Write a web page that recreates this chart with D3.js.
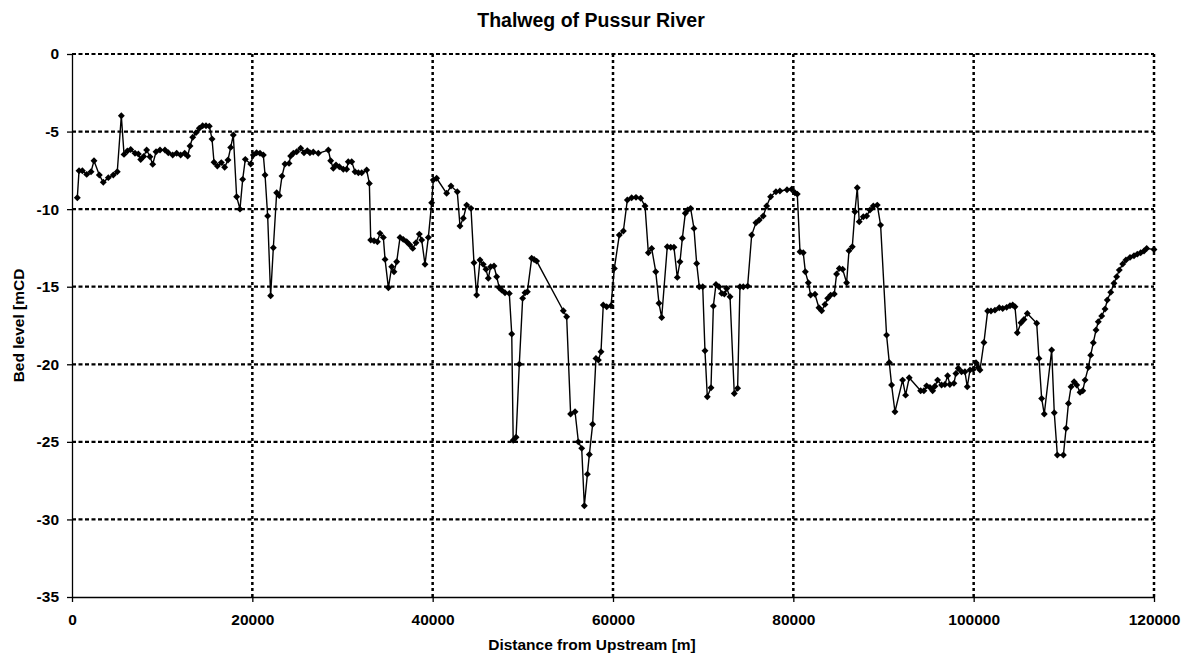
<!DOCTYPE html>
<html>
<head>
<meta charset="utf-8">
<script src="https://cdn.jsdelivr.net/npm/d3@7"></script>
<style>
  body { margin: 0; background: #fff; }
  svg { display: block; font-family: "Liberation Sans", Arial, sans-serif; }
</style>
</head>
<body>
<div id="chart"></div>
<script>
// distance from upstream [m]
const distance = [
  590, 780, 1150, 1630, 2110, 2440, 3030, 3470, 4030, 4580, 5020, 5470, 5770, 6140, 6510,
  6990, 7360, 7620, 7950, 8280, 8650, 8950, 9320, 9760, 10310, 10680, 11170, 11610, 12050,
  12500, 12830, 13090, 13390, 13750, 14120, 14490, 14860, 15230, 15530, 15750, 16120, 16560,
  16930, 17300, 17600, 17890, 18260, 18630, 18930, 19220, 19820, 20110, 20480, 20850, 21220,
  21410, 21700, 22030, 22330, 22700, 22990, 23290, 23620, 24070, 24250, 24550, 24920, 25360,
  25730, 26100, 26390, 26760, 27320, 28430, 28690, 28980, 29280, 29650, 30090, 30460, 30640,
  31020, 31390, 31760, 32130, 32680, 32980, 33130, 33500, 33870, 34160, 34530, 34720, 35090,
  35460, 35710, 36010, 36380, 36740, 37120, 37450, 37790, 38150, 38520, 38780, 39150, 39520,
  39890, 40070, 40440, 41550, 42030, 42730, 43030, 43400, 43770, 44250, 44580, 44880, 45250,
  45610, 45910, 46170, 46430, 46800, 47100, 47390, 47660, 48020, 48500, 48770, 48930, 49250,
  49610, 49980, 50240, 50500, 50980, 51250, 51530, 54490, 54860, 55300, 55790, 56160, 56530,
  56820, 57160, 57380, 57740, 58110, 58380, 58670, 58920, 59300, 59780, 60150, 60700, 61150,
  61590, 62070, 62550, 63070, 63550, 63920, 64290, 64740, 65100, 65400, 66020, 66400, 66760,
  67130, 67430, 67690, 68020, 68280, 68610, 68980, 69280, 69570, 69950, 70200, 70460, 70870,
  71130, 71420, 71760, 72060, 72350, 72610, 72980, 73450, 73820, 74080, 74450, 74930, 75380,
  75850, 76220, 76660, 77040, 77480, 78070, 78510, 79300, 79810, 80180, 80440, 80740, 81100,
  81330, 81660, 81920, 82400, 82840, 83140, 83510, 83810, 84140, 84540, 84800, 85100, 85470,
  85910, 86170, 86540, 86830, 87090, 87310, 87760, 88130, 88500, 88870, 89310, 89680, 90340,
  90640, 90900, 91270, 92120, 92450, 92850, 94120, 94480, 94780, 95150, 95450, 95700, 96000,
  96440, 96810, 97110, 97360, 97810, 98030, 98290, 98660, 99030, 99290, 99590, 99960, 100260,
  100500, 100700, 101140, 101550, 101920, 102360, 102840, 103220, 103660, 104030, 104330,
  104580, 104840, 105250, 105580, 105950, 106990, 107240, 107540, 107830, 108650, 108940,
  109280, 109950, 110250, 110510, 110800, 111140, 111430, 111800, 112100, 112350, 112720,
  112980, 113270, 113570, 113820, 114200, 114570, 114820, 115200, 115560, 115860, 116150,
  116530, 116890, 117340, 117780, 118150, 118520, 118890, 119190, 120000
];

// bed level [mCD]
const bedLevel = [
  -9.27, -7.52, -7.52, -7.76, -7.59, -6.88, -7.8, -8.27, -7.97, -7.8, -7.59, -3.98, -6.47, -6.25, -6.15,
  -6.4, -6.45, -6.8, -6.6, -6.19, -6.62, -7.11, -6.3, -6.19, -6.19, -6.36, -6.51, -6.4, -6.51,
  -6.4, -6.58, -5.93, -5.37, -5.07, -4.79, -4.62, -4.62, -4.65, -5.48, -6.98, -7.22, -7.0,
  -7.3, -6.83, -6.02, -5.22, -9.2, -10.0, -8.08, -6.79, -7.09, -6.51, -6.36, -6.4, -6.51,
  -7.8, -10.44, -15.58, -12.49, -8.94, -9.13, -7.87, -7.09, -7.05, -6.58, -6.4, -6.3, -6.08,
  -6.36, -6.23, -6.36, -6.32, -6.4, -6.19, -6.88, -7.37, -7.16, -7.27, -7.43, -7.43, -6.94,
  -6.94, -7.59, -7.65, -7.65, -7.48, -8.34, -11.99, -12.04, -12.1, -11.56, -11.82, -13.24, -15.07,
  -13.71, -14.03, -13.39, -11.82, -11.95, -12.1, -12.3, -12.53, -12.17, -11.61, -11.99, -13.56, -11.82,
  -9.59, -8.12, -8.01, -8.98, -8.51, -8.88, -11.09, -10.59, -9.74, -9.95, -13.45, -15.54, -13.28,
  -13.56, -13.88, -14.46, -13.71, -13.67, -14.36, -15.07, -15.22, -15.39, -15.43, -18.05, -24.9, -24.7,
  -19.99, -15.75, -15.39, -15.32, -13.17, -13.25, -13.35, -16.55, -16.94, -23.21, -23.06, -25.0, -25.42,
  -29.12, -27.08, -25.81, -23.87, -19.62, -19.73, -19.19, -16.18, -16.29, -16.23, -13.82, -11.67, -11.41,
  -9.41, -9.26, -9.24, -9.3, -9.8, -12.81, -12.53, -14.03, -16.07, -16.98, -12.42, -12.46, -12.46,
  -14.4, -13.39, -11.88, -10.27, -10.06, -9.95, -11.24, -13.5, -15.0, -15.0, -19.13, -22.09, -21.51,
  -16.25, -14.85, -15.0, -15.43, -15.47, -15.11, -15.65, -21.88, -21.55, -15.0, -15.0, -14.96, -11.67,
  -10.88, -10.7, -10.44, -9.8, -9.2, -8.88, -8.83, -8.75, -8.72, -8.94, -9.03, -12.75, -12.81,
  -14.03, -14.74, -15.54, -15.49, -16.36, -16.55, -16.14, -15.75, -15.54, -15.47, -14.18, -13.82, -13.88,
  -14.74, -12.68, -12.42, -10.17, -8.62, -10.81, -10.49, -10.44, -10.06, -9.8, -9.74, -11.03, -18.12,
  -19.88, -21.34, -23.06, -21.02, -21.99, -20.87, -21.71, -21.71, -21.39, -21.49, -21.71, -21.41, -21.02,
  -21.34, -21.3, -20.74, -21.3, -21.23, -20.59, -20.26, -20.48, -20.48, -21.45, -20.37, -20.33, -19.9,
  -20.2, -20.37, -18.59, -16.57, -16.57, -16.51, -16.36, -16.4, -16.33, -16.23, -16.18,
  -16.29, -17.97, -17.32, -17.11, -16.72, -17.36, -19.62, -22.2, -23.21, -19.08, -23.12,
  -25.85, -25.85, -24.13, -22.52, -21.45, -21.13, -21.34, -21.81, -21.71, -21.02, -20.2,
  -19.41, -18.61, -17.79, -17.26, -16.89, -16.44, -15.86, -15.36, -14.78, -14.36, -13.93,
  -13.54, -13.28, -13.11, -13.0, -12.9, -12.81, -12.7, -12.53, -12.6
];

const xTicks = [0, 20000, 40000, 60000, 80000, 100000, 120000];
const yTicks = [0, -5, -10, -15, -20, -25, -30, -35];

const W = 1191, H = 654;
const mLeft = 72, mRight = 1154, mTop = 54, mBottom = 597;

const svg = d3.select('#chart').append('svg').attr('width', W).attr('height', H);

const x = d3.scaleLinear().domain([0, 120000]).range([mLeft, mRight]);
const y = d3.scaleLinear().domain([-35, 0]).range([mBottom, mTop]);

// dotted grid
svg.append('g').selectAll('line').data(yTicks.filter(v => v > -35)).join('line')
  .attr('x1', mLeft).attr('x2', mRight)
  .attr('y1', d => y(d)).attr('y2', d => y(d))
  .attr('stroke', '#000').attr('stroke-width', 2.2).attr('stroke-dasharray', '4,2.5');
svg.append('g').selectAll('line').data(xTicks.filter(v => v > 0)).join('line')
  .attr('x1', d => x(d)).attr('x2', d => x(d))
  .attr('y1', mTop).attr('y2', mBottom)
  .attr('stroke', '#000').attr('stroke-width', 2.5).attr('stroke-dasharray', '3,3');

// axes (plain hyphen for negatives, like the original)
const yAxis = svg.append('g').attr('transform', `translate(${mLeft},0)`)
  .call(d3.axisLeft(y).tickValues(yTicks).tickSize(5).tickSizeOuter(0).tickPadding(8)
    .tickFormat(d => String(d)));
const xAxis = svg.append('g').attr('transform', `translate(0,${mBottom})`)
  .call(d3.axisBottom(x).tickValues(xTicks).tickSize(5).tickSizeOuter(0).tickPadding(12)
    .tickFormat(d => String(d)));
[yAxis, xAxis].forEach(g => {
  g.selectAll('path, line').attr('stroke', '#000').attr('stroke-width', 1.3);
  g.selectAll('text').attr('font-family', '"Liberation Sans", Arial, sans-serif')
    .attr('font-size', '15.5px').attr('font-weight', 'bold').attr('fill', '#000');
});

// series
const pts = distance.map((d, i) => [d, bedLevel[i]]);
svg.append('path').datum(pts)
  .attr('fill', 'none').attr('stroke', '#000').attr('stroke-width', 1.4)
  .attr('d', d3.line().x(d => x(d[0])).y(d => y(d[1])));

const marker = d3.symbol(d3.symbolSquare, 24);
svg.append('g').selectAll('path').data(pts).join('path')
  .attr('d', marker)
  .attr('transform', d => `translate(${x(d[0])},${y(d[1])}) rotate(45)`)
  .attr('fill', '#000');

// titles
svg.append('text').attr('x', 591).attr('y', 27).attr('text-anchor', 'middle')
  .attr('font-size', '19.5px').attr('font-weight', 'bold').text('Thalweg of Pussur River');
svg.append('text').attr('x', 592).attr('y', 650).attr('text-anchor', 'middle')
  .attr('font-size', '15.5px').attr('font-weight', 'bold').text('Distance from Upstream [m]');
svg.append('text').attr('transform', `translate(24,${(mTop + mBottom) / 2}) rotate(-90)`)
  .attr('text-anchor', 'middle')
  .attr('font-size', '15.5px').attr('font-weight', 'bold').text('Bed level [mCD');
</script>
</body>
</html>
